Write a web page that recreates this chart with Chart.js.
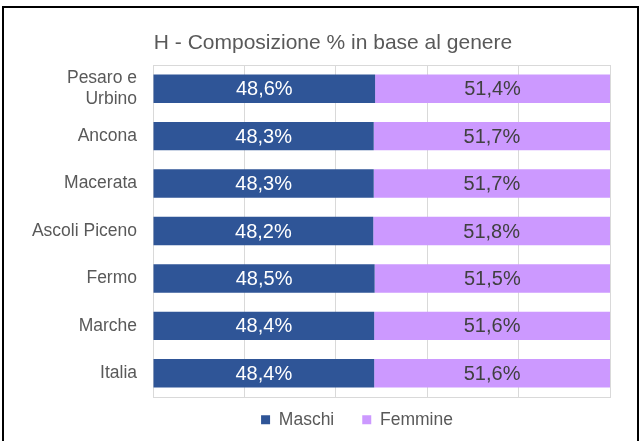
<!DOCTYPE html>
<html>
<head>
<meta charset="utf-8">
<title>H - Composizione % in base al genere</title>
<script src="https://cdn.jsdelivr.net/npm/chart.js@4.4.1/dist/chart.umd.min.js"></script>
<style>
  html, body { margin: 0; padding: 0; background: #fff; }
  #wrap { position: relative; width: 640px; height: 441px; overflow: hidden; }
  #frame { position: absolute; left: 2px; top: 6px; width: 633px; height: 480px; border: 2px solid #000; pointer-events: none; }
  canvas { position: absolute; left: 0; top: 0; }
</style>
</head>
<body>
<div id="wrap">
  <canvas id="genereChart" width="640" height="441"></canvas>
  <div id="frame"></div>
</div>
<script>
// Data (percent of population by gender)
const categories = [['Pesaro e', 'Urbino'], 'Ancona', 'Macerata', 'Ascoli Piceno', 'Fermo', 'Marche', 'Italia'];
const maschi = [48.6, 48.3, 48.3, 48.2, 48.5, 48.4, 48.4];
const femmine = [51.4, 51.7, 51.7, 51.8, 51.5, 51.6, 51.6];
const xTicks = [0, 20, 40, 60, 80, 100];

const FONT = '"Liberation Sans", Arial, sans-serif';
const GREY_TEXT = '#595959';
const GRID = '#d9d9d9';

// Draw the value labels inside each bar segment
const barLabels = {
    id: 'barLabels',
    afterDatasetsDraw(chart) {
        const ctx = chart.ctx;
        ctx.save();
        ctx.font = '20px ' + FONT;
        ctx.textAlign = 'center';
        ctx.textBaseline = 'middle';
        chart.data.datasets.forEach((ds, i) => {
            const meta = chart.getDatasetMeta(i);
            meta.data.forEach((bar, j) => {
                const p = bar.getProps(['x', 'y', 'base'], true);
                ctx.fillStyle = ds.labelColor;
                ctx.fillText(ds.data[j].toFixed(1).replace('.', ',') + '%', (p.x + p.base) / 2, p.y + 1);
            });
        });
        ctx.restore();
    }
};

// Excel centres title and legend a bit right of the canvas centre
const blockNudge = {
    id: 'blockNudge',
    afterLayout(chart) {
        const t = chart.titleBlock;
        t.left += 28;
        t.right += 28;

        const lg = chart.legend;
        lg.left += 52;
        lg.right += 52;
        lg.top -= 14;
        lg.bottom -= 14;
    }
};

const ctx = document.getElementById('genereChart').getContext('2d');

window.genereChart = new Chart(ctx, {
    type: 'bar',
    data: {
        labels: categories,
        datasets: [{
            label: 'Maschi',
            data: maschi,
            backgroundColor: '#2f5597',
            labelColor: '#ffffff',
            categoryPercentage: 0.6,
            barPercentage: 1
        },
        {
            label: 'Femmine',
            data: femmine,
            backgroundColor: '#cc99ff',
            labelColor: '#404040',
            categoryPercentage: 0.6,
            barPercentage: 1
        }]
    },
    options: {
        indexAxis: 'y',
        responsive: false,
        animation: false,
        devicePixelRatio: 1,
        layout: {
            padding: { top: 0, right: 30, bottom: 0, left: 0 }
        },
        scales: {
            x: {
                stacked: true,
                min: xTicks[0],
                max: xTicks[xTicks.length - 1],
                ticks: { display: false, stepSize: xTicks[1] - xTicks[0] },
                grid: { color: GRID, lineWidth: 1, drawTicks: false },
                border: { display: true, color: GRID, width: 1 }
            },
            x2: {
                axis: 'x',
                type: 'linear',
                position: 'top',
                min: xTicks[0],
                max: xTicks[xTicks.length - 1],
                ticks: { display: false },
                grid: { display: false, drawTicks: false },
                border: { display: true, color: GRID, width: 1 }
            },
            y: {
                stacked: true,
                grid: { display: false, drawTicks: false },
                border: { display: true, color: GRID, width: 1 },
                ticks: {
                    color: GREY_TEXT,
                    padding: 16,
                    font: { family: FONT, size: 17.5, lineHeight: 1.2 }
                },
                afterFit: function (scale) {
                    scale.width = 153;
                }
            }
        },
        plugins: {
            title: {
                display: true,
                text: 'H - Composizione % in base al genere',
                color: GREY_TEXT,
                font: { family: FONT, size: 21, weight: 'normal', lineHeight: 1.2 },
                padding: { top: 30.4, bottom: 9.4 }
            },
            legend: {
                display: true,
                position: 'bottom',
                maxHeight: 44,
                labels: {
                    color: GREY_TEXT,
                    boxWidth: 9,
                    boxHeight: 9,
                    padding: 28,
                    font: { family: FONT, size: 17.5 }
                }
            },
            tooltip: { enabled: false }
        }
    },
    plugins: [barLabels, blockNudge]
});
</script>
</body>
</html>
